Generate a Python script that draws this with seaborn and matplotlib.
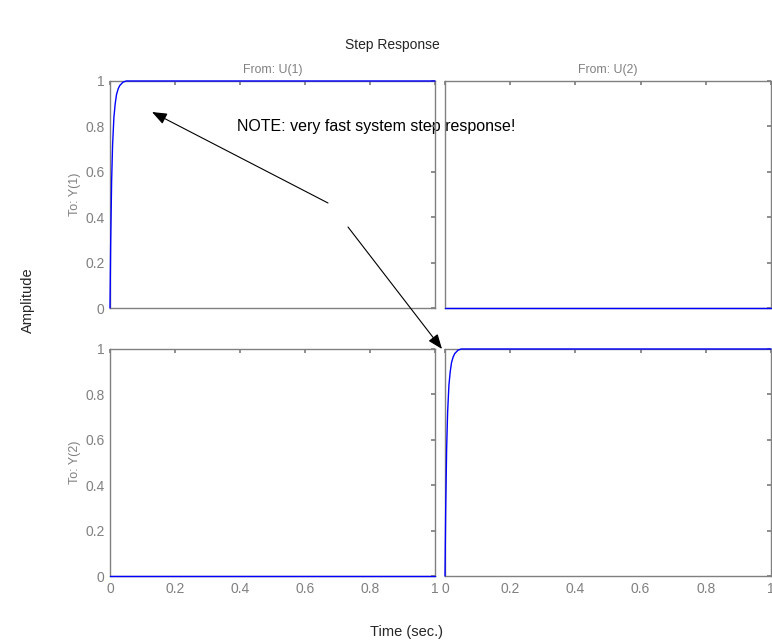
import numpy as np
import pandas as pd
import matplotlib
matplotlib.use("Agg")
import matplotlib.pyplot as plt
import seaborn as sns

# ---- data ----
time_pts = [0.0, 0.002, 0.005, 0.008, 0.012, 0.016, 0.02, 0.025, 0.03, 0.04, 0.05, 0.06, 1.0]
resp_fast = [0.0, 0.28, 0.56, 0.72, 0.84, 0.90, 0.94, 0.965, 0.98, 0.995, 1.0, 1.0, 1.0]
resp_zero = [0.0] * len(time_pts)
inputs = ["U(1)", "U(2)"]
outputs = ["Y(1)", "Y(2)"]
xticks = [0, 0.2, 0.4, 0.6, 0.8, 1]
yticks = [0, 0.2, 0.4, 0.6, 0.8, 1]
note_text = "NOTE: very fast system step response!"

sns.set_theme(style="white")
plt.rcParams['font.family'] = ['Liberation Sans', 'DejaVu Sans']

W, H = 772, 643
fig = plt.figure(figsize=(W / 100, H / 100), dpi=100)

gray = "#808080"
lefts = [110 / W, 445 / W]
widths = [325 / W, (771 - 445) / W]
tops = [81, 349]
ah = 227
axes = {}
for r in range(2):
    for c in range(2):
        b = 1 - (tops[r] + ah) / H
        ax = fig.add_axes([lefts[c], b, widths[c], ah / H])
        ax.patch.set_alpha(0)
        axes[(r, c)] = ax
        y = resp_fast if r == c else resp_zero
        df = pd.DataFrame({"t": time_pts, "y": y})
        sns.lineplot(data=df, x="t", y="y", ax=ax, color="#0000ff", lw=1.0)
        for ln in ax.lines:
            ln.set_zorder(3)
            ln.set_clip_on(False)
        ax.set_xlim(0, 1)
        ax.set_ylim(0, 1)
        ax.set_xticks(xticks)
        ax.set_yticks(yticks)
        ax.set_xticklabels([f"{v:g}" for v in xticks] if r == 1 else [])
        ax.set_yticklabels([f"{v:g}" for v in yticks] if c == 0 else [])
        ax.tick_params(direction="in", length=3, color=gray, labelcolor=gray,
                       labelsize=10, top=True, right=True, pad=4)
        for s in ax.spines.values():
            s.set_color(gray)
            s.set_linewidth(1.0)
        ax.set_xlabel("")
        ax.set_ylabel("")
        if r == 0:
            ax.set_title("From: " + inputs[c], color=gray, fontsize=8.8, pad=6)
        if c == 0:
            ax.set_ylabel("To: " + outputs[r], color=gray, fontsize=9, labelpad=3)

fig.text(392 / W, 1 - 45 / H, "Step Response", ha="center", va="center", fontsize=10)
fig.text(28 / W, 1 - 300 / H, "Amplitude", ha="center", va="center", rotation=90, fontsize=10.5)
fig.text(407 / W, 1 - 632 / H, "Time (sec.)", ha="center", va="center", fontsize=10.5)

fig.text(237 / W, 1 - 127 / H, note_text, fontsize=11.5, color="black", ha="left",
         va="center", zorder=-1)

fig.add_artist(matplotlib.patches.FancyArrowPatch(
    (328 / W, 1 - 203 / H), (152 / W, 1 - 112 / H), transform=fig.transFigure,
    arrowstyle="-|>,head_length=9,head_width=3.5", color="black", lw=0.8,
    shrinkA=0, shrinkB=0, mutation_scale=1, zorder=10))
fig.add_artist(matplotlib.patches.FancyArrowPatch(
    (348 / W, 1 - 227 / H), (442 / W, 1 - 349 / H), transform=fig.transFigure,
    arrowstyle="-|>,head_length=9,head_width=3.5", color="black", lw=0.8,
    shrinkA=0, shrinkB=0, mutation_scale=1, zorder=10))

fig.savefig("out.png", dpi=100, facecolor="white")
